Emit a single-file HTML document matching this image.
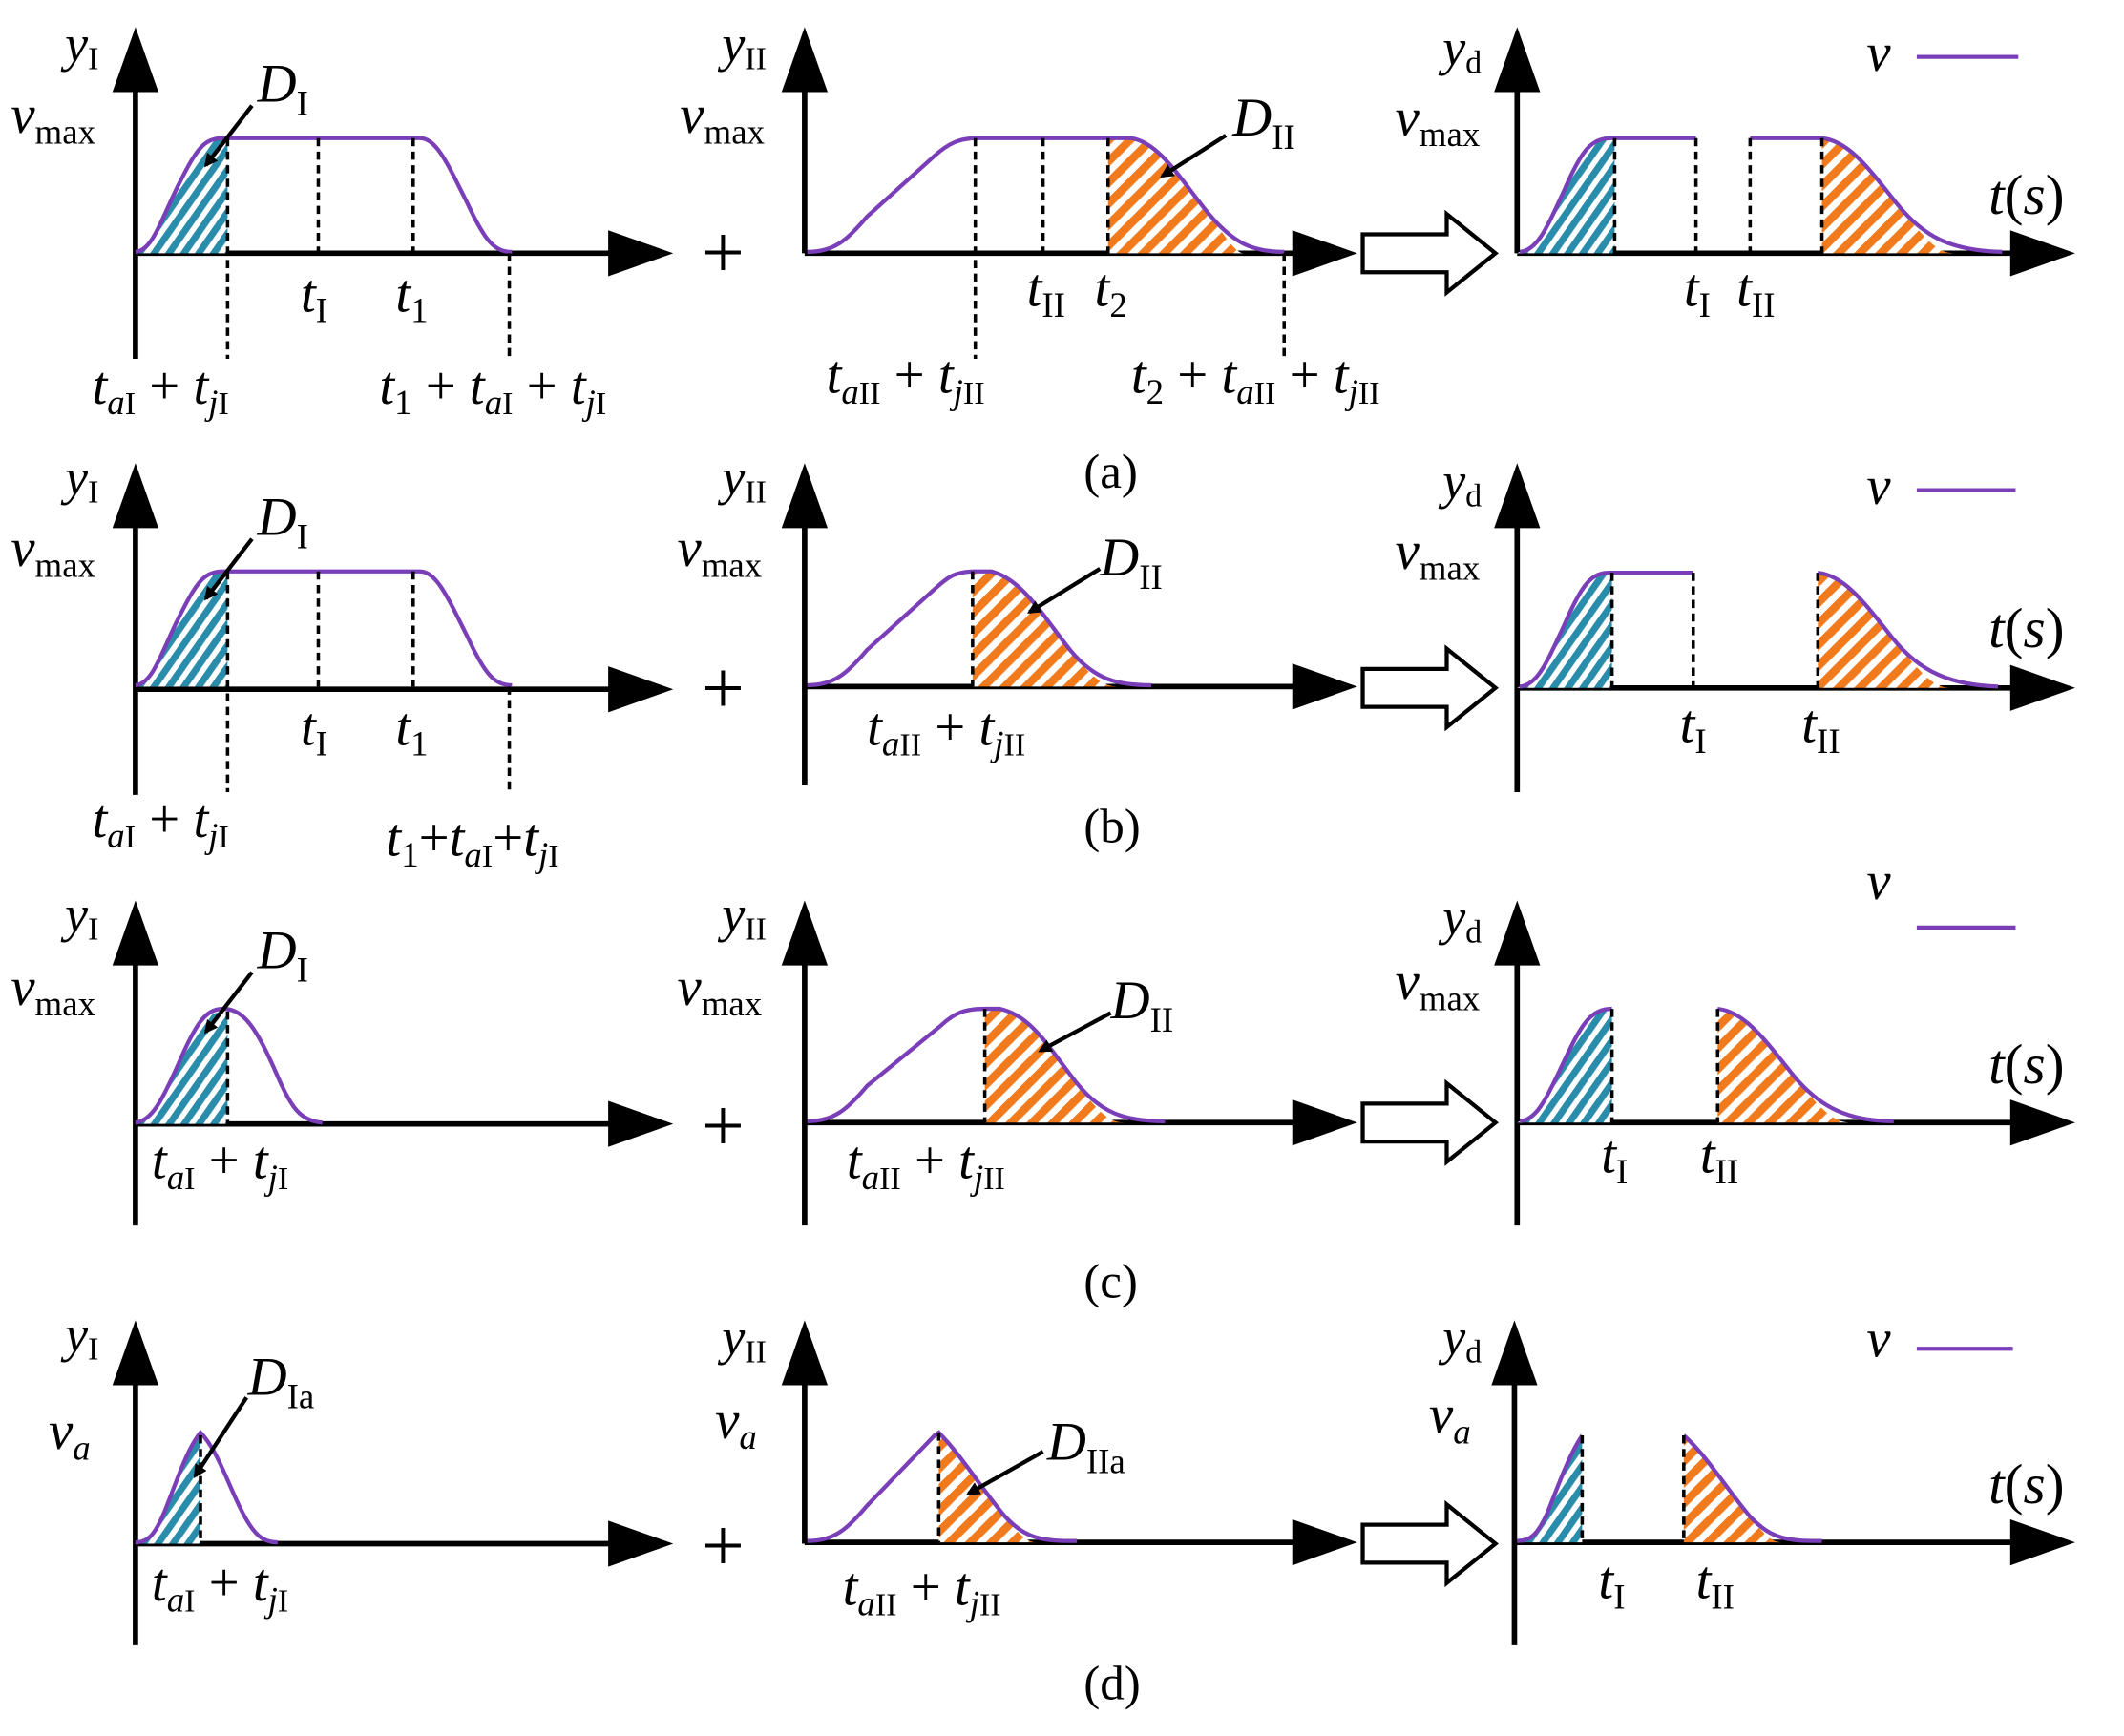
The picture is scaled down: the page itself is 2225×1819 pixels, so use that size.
<!DOCTYPE html>
<html><head><meta charset="utf-8"><style>
html,body{margin:0;padding:0;background:#fff;}
svg{display:block}
text{font-family:"Liberation Serif",serif;fill:#000}
.it{font-style:italic}
</style></head><body>
<svg width="2225" height="1819" viewBox="0 0 1568 1282" preserveAspectRatio="none" xmlns="http://www.w3.org/2000/svg">
<defs>
<pattern id="hb" patternUnits="userSpaceOnUse" width="9" height="9" patternTransform="rotate(35)">
<rect width="9" height="9" fill="#fff"/><rect width="5" height="9" fill="#2a8cab"/></pattern>
<pattern id="ho" patternUnits="userSpaceOnUse" width="11" height="11" patternTransform="rotate(45)">
<rect width="11" height="11" fill="#fff"/><rect width="6" height="11" fill="#f07a1c"/></pattern>
<marker id="ar" markerWidth="10" markerHeight="10" refX="8" refY="5" orient="auto" markerUnits="userSpaceOnUse">
<path d="M0,0 L10,5 L0,10 z" fill="#000"/></marker>
<g id="ya"><path d="M0,0 l-16,42 l32,0 z" fill="#000"/></g>
</defs>
<style>
.ax{stroke:#000;stroke-width:4;fill:none}
.cv{stroke:#7a3fb8;stroke-width:3;fill:none}
.ds{stroke:#000;stroke-width:2.5;stroke-dasharray:6,4;fill:none}
.pt{stroke:#000;stroke-width:3;fill:none}
</style>

<!-- generic axes helpers written inline -->
<!-- ===== ROW A (baseline 187) ===== -->
<g>
<line class="ax" x1="100" y1="265" x2="100" y2="60"/><path d="M100,20 l-17,48 l34,0z"/>
<line class="ax" x1="100" y1="187" x2="460" y2="187"/><path d="M497,187 l-48,-17 l0,34z"/>
<path d="M100,187 L168,187 L168,102 C150,102 145,110 130,140 C118,165 112,185 100,187z" fill="url(#hb)"/>
<path class="cv" d="M100,186 C112,185 118,165 130,140 C145,110 150,102 165,102 L310,102 C322,102 330,120 345,150 C358,178 365,186 378,186"/>
<line class="ds" x1="168" y1="102" x2="168" y2="265"/><line class="ds" x1="235" y1="102" x2="235" y2="187"/>
<line class="ds" x1="305" y1="102" x2="305" y2="187"/><line class="ds" x1="376" y1="187" x2="376" y2="265"/>
<line class="pt" x1="186" y1="78" x2="152" y2="122" marker-end="url(#ar)"/>
<text x="48" y="45" font-size="38" class="it">y<tspan font-size="24" font-style="normal" dy="6">I</tspan></text>
<text x="8" y="98" font-size="40" class="it">v<tspan font-size="26" font-style="normal" dy="8">max</tspan></text>
<text x="190" y="75" font-size="40" class="it">D<tspan font-size="26" font-style="normal" dy="10">I</tspan></text>
<text x="222" y="230" font-size="40" class="it">t<tspan font-size="26" font-style="normal" dy="8">I</tspan></text>
<text x="292" y="230" font-size="40" class="it">t<tspan font-size="26" font-style="normal" dy="8">1</tspan></text>
<text x="68" y="298" font-size="40" class="it">t<tspan font-size="26" dy="8">a</tspan><tspan font-size="24" font-style="normal">I</tspan><tspan dy="-8" font-style="normal"> + </tspan>t<tspan font-size="26" dy="8">j</tspan><tspan font-size="24" font-style="normal">I</tspan></text>
<text x="280" y="298" font-size="40" class="it">t<tspan font-size="26" font-style="normal" dy="8">1</tspan><tspan dy="-8" font-style="normal"> + </tspan>t<tspan font-size="26" dy="8">a</tspan><tspan font-size="24" font-style="normal">I</tspan><tspan dy="-8" font-style="normal"> + </tspan>t<tspan font-size="26" dy="8">j</tspan><tspan font-size="24" font-style="normal">I</tspan></text>
<text x="518" y="205" font-size="56">+</text>

<line class="ax" x1="594" y1="187" x2="594" y2="60"/><path d="M594,20 l-17,48 l34,0z"/>
<line class="ax" x1="594" y1="187" x2="965" y2="187"/><path d="M1002,187 l-48,-17 l0,34z"/>
<path d="M818,187 L818,102 L838,102 C855,105 870,130 890,155 C905,175 912,187 918,187z" fill="url(#ho)"/>
<path class="cv" d="M596,186 C615,186 625,178 640,160 L690,115 C700,106 708,102 722,102 L835,102 C855,105 870,130 890,155 C910,180 925,186 948,186"/>
<line class="ds" x1="720" y1="102" x2="720" y2="265"/><line class="ds" x1="770" y1="102" x2="770" y2="187"/>
<line class="ds" x1="818" y1="102" x2="818" y2="187"/><line class="ds" x1="948" y1="187" x2="948" y2="265"/>
<line class="pt" x1="905" y1="100" x2="858" y2="130" marker-end="url(#ar)"/>
<text x="533" y="45" font-size="38" class="it">y<tspan font-size="24" font-style="normal" dy="6">II</tspan></text>
<text x="502" y="98" font-size="40" class="it">v<tspan font-size="26" font-style="normal" dy="8">max</tspan></text>
<text x="910" y="100" font-size="40" class="it">D<tspan font-size="26" font-style="normal" dy="10">II</tspan></text>
<text x="758" y="226" font-size="40" class="it">t<tspan font-size="26" font-style="normal" dy="8">II</tspan></text>
<text x="808" y="226" font-size="40" class="it">t<tspan font-size="26" font-style="normal" dy="8">2</tspan></text>
<text x="610" y="290" font-size="40" class="it">t<tspan font-size="26" dy="8">a</tspan><tspan font-size="24" font-style="normal">II</tspan><tspan dy="-8" font-style="normal"> + </tspan>t<tspan font-size="26" dy="8">j</tspan><tspan font-size="24" font-style="normal">II</tspan></text>
<text x="835" y="290" font-size="40" class="it">t<tspan font-size="26" font-style="normal" dy="8">2</tspan><tspan dy="-8" font-style="normal"> + </tspan>t<tspan font-size="26" dy="8">a</tspan><tspan font-size="24" font-style="normal">II</tspan><tspan dy="-8" font-style="normal"> + </tspan>t<tspan font-size="26" dy="8">j</tspan><tspan font-size="24" font-style="normal">II</tspan></text>
<path d="M1006,173 L1068,173 L1068,158 L1104,187 L1068,216 L1068,201 L1006,201z" fill="#fff" stroke="#000" stroke-width="3"/>

<line class="ax" x1="1120" y1="187" x2="1120" y2="60"/><path d="M1120,20 l-17,48 l34,0z"/>
<line class="ax" x1="1120" y1="187" x2="1495" y2="187"/><path d="M1532,187 l-48,-17 l0,34z"/>
<path d="M1120,187 L1192,187 L1192,102 C1175,102 1168,110 1155,140 C1142,168 1135,185 1122,186z" fill="url(#hb)"/>
<path d="M1345,187 L1345,102 C1365,104 1380,125 1400,150 C1420,175 1430,187 1442,187z" fill="url(#ho)"/>
<path class="cv" d="M1122,186 C1135,185 1142,168 1155,140 C1168,110 1175,102 1190,102 L1252,102 M1292,102 L1345,102 C1365,104 1380,125 1400,150 C1420,175 1440,185 1478,186"/>
<line class="ds" x1="1192" y1="102" x2="1192" y2="187"/><line class="ds" x1="1252" y1="102" x2="1252" y2="187"/>
<line class="ds" x1="1292" y1="102" x2="1292" y2="187"/><line class="ds" x1="1345" y1="102" x2="1345" y2="187"/>
<text x="1065" y="48" font-size="38" class="it">y<tspan font-size="24" font-style="normal" dy="6">d</tspan></text>
<text x="1030" y="100" font-size="40" class="it">v<tspan font-size="26" font-style="normal" dy="8">max</tspan></text>
<text x="1468" y="158" font-size="42" class="it">t<tspan font-style="normal">(</tspan>s<tspan font-style="normal">)</tspan></text>
<text x="1378" y="52" font-size="40" class="it">v</text><line x1="1415" y1="42" x2="1490" y2="42" stroke="#7a3fb8" stroke-width="3"/>
<text x="1243" y="226" font-size="40" class="it">t<tspan font-size="26" font-style="normal" dy="8">I</tspan></text>
<text x="1282" y="226" font-size="40" class="it">t<tspan font-size="26" font-style="normal" dy="8">II</tspan></text>
<text x="800" y="360" font-size="36">(a)</text>
</g>

<!-- ===== ROW B (baseline 509) ===== -->
<g>
<line class="ax" x1="100" y1="587" x2="100" y2="382"/><path d="M100,342 l-17,48 l34,0z"/>
<line class="ax" x1="100" y1="509" x2="460" y2="509"/><path d="M497,509 l-48,-17 l0,34z"/>
<g transform="translate(0,320)">
<path d="M100,187 L168,187 L168,102 C150,102 145,110 130,140 C118,165 112,185 100,187z" fill="url(#hb)"/>
<path class="cv" d="M100,186 C112,185 118,165 130,140 C145,110 150,102 165,102 L310,102 C322,102 330,120 345,150 C358,178 365,186 378,186"/>
<line class="ds" x1="168" y1="102" x2="168" y2="265"/><line class="ds" x1="235" y1="102" x2="235" y2="187"/>
<line class="ds" x1="305" y1="102" x2="305" y2="187"/><line class="ds" x1="376" y1="187" x2="376" y2="265"/>
<line class="pt" x1="186" y1="78" x2="152" y2="122" marker-end="url(#ar)"/>
</g>
<text x="48" y="365" font-size="38" class="it">y<tspan font-size="24" font-style="normal" dy="6">I</tspan></text>
<text x="8" y="418" font-size="40" class="it">v<tspan font-size="26" font-style="normal" dy="8">max</tspan></text>
<text x="190" y="395" font-size="40" class="it">D<tspan font-size="26" font-style="normal" dy="10">I</tspan></text>
<text x="222" y="550" font-size="40" class="it">t<tspan font-size="26" font-style="normal" dy="8">I</tspan></text>
<text x="292" y="550" font-size="40" class="it">t<tspan font-size="26" font-style="normal" dy="8">1</tspan></text>
<text x="68" y="618" font-size="40" class="it">t<tspan font-size="26" dy="8">a</tspan><tspan font-size="24" font-style="normal">I</tspan><tspan dy="-8" font-style="normal"> + </tspan>t<tspan font-size="26" dy="8">j</tspan><tspan font-size="24" font-style="normal">I</tspan></text>
<text x="285" y="632" font-size="40" class="it">t<tspan font-size="26" font-style="normal" dy="8">1</tspan><tspan dy="-8" font-style="normal">+</tspan>t<tspan font-size="26" dy="8">a</tspan><tspan font-size="24" font-style="normal">I</tspan><tspan dy="-8" font-style="normal">+</tspan>t<tspan font-size="26" dy="8">j</tspan><tspan font-size="24" font-style="normal">I</tspan></text>
<text x="518" y="527" font-size="56">+</text>

<line class="ax" x1="594" y1="580" x2="594" y2="382"/><path d="M594,342 l-17,48 l34,0z"/>
<line class="ax" x1="594" y1="507" x2="965" y2="507"/><path d="M1002,507 l-48,-17 l0,34z"/>
<path d="M718,507 L718,422 L735,422 C755,428 770,455 790,480 C805,500 815,507 825,507z" fill="url(#ho)"/>
<path class="cv" d="M596,506 C615,506 625,498 640,480 L690,435 C700,426 705,422 720,422 L732,422 C755,428 770,455 790,480 C808,502 825,506 850,506"/>
<line class="ds" x1="718" y1="422" x2="718" y2="507"/>
<line class="pt" x1="812" y1="420" x2="760" y2="452" marker-end="url(#ar)"/>
<text x="533" y="365" font-size="38" class="it">y<tspan font-size="24" font-style="normal" dy="6">II</tspan></text>
<text x="500" y="418" font-size="40" class="it">v<tspan font-size="26" font-style="normal" dy="8">max</tspan></text>
<text x="812" y="425" font-size="40" class="it">D<tspan font-size="26" font-style="normal" dy="10">II</tspan></text>
<text x="640" y="550" font-size="40" class="it">t<tspan font-size="26" dy="8">a</tspan><tspan font-size="24" font-style="normal">II</tspan><tspan dy="-8" font-style="normal"> + </tspan>t<tspan font-size="26" dy="8">j</tspan><tspan font-size="24" font-style="normal">II</tspan></text>
<path d="M1006,494 L1068,494 L1068,479 L1104,508 L1068,537 L1068,522 L1006,522z" fill="#fff" stroke="#000" stroke-width="3"/>

<line class="ax" x1="1120" y1="585" x2="1120" y2="382"/><path d="M1120,342 l-17,48 l34,0z"/>
<line class="ax" x1="1120" y1="508" x2="1495" y2="508"/><path d="M1532,508 l-48,-17 l0,34z"/>
<g transform="translate(0,321)">
<path d="M1120,187 L1190,187 L1190,102 C1175,102 1168,110 1155,140 C1142,168 1135,185 1122,186z" fill="url(#hb)"/>
<path d="M1342,187 L1342,102 C1362,104 1377,125 1397,150 C1417,175 1427,187 1440,187z" fill="url(#ho)"/>
<path class="cv" d="M1122,186 C1135,185 1142,168 1155,140 C1168,110 1175,102 1188,102 L1250,102 M1342,102 C1362,104 1377,125 1397,150 C1417,175 1440,185 1475,186"/>
<line class="ds" x1="1190" y1="102" x2="1190" y2="187"/><line class="ds" x1="1250" y1="102" x2="1250" y2="187"/>
<line class="ds" x1="1342" y1="102" x2="1342" y2="187"/>
</g>
<text x="1065" y="368" font-size="38" class="it">y<tspan font-size="24" font-style="normal" dy="6">d</tspan></text>
<text x="1030" y="420" font-size="40" class="it">v<tspan font-size="26" font-style="normal" dy="8">max</tspan></text>
<text x="1468" y="478" font-size="42" class="it">t<tspan font-style="normal">(</tspan>s<tspan font-style="normal">)</tspan></text>
<text x="1378" y="372" font-size="40" class="it">v</text><line x1="1415" y1="362" x2="1488" y2="362" stroke="#7a3fb8" stroke-width="3"/>
<text x="1240" y="548" font-size="40" class="it">t<tspan font-size="26" font-style="normal" dy="8">I</tspan></text>
<text x="1330" y="548" font-size="40" class="it">t<tspan font-size="26" font-style="normal" dy="8">II</tspan></text>
<text x="800" y="622" font-size="36">(b)</text>
</g>

<!-- ===== ROW C (baseline 830) ===== -->
<g>
<line class="ax" x1="100" y1="905" x2="100" y2="705"/><path d="M100,665 l-17,48 l34,0z"/>
<line class="ax" x1="100" y1="830" x2="460" y2="830"/><path d="M497,830 l-48,-17 l0,34z"/>
<path d="M100,830 L168,830 L168,748 C155,745 145,755 132,785 C120,812 112,828 100,829z" fill="url(#hb)"/>
<path class="cv" d="M100,829 C112,828 120,812 132,785 C145,755 152,745 165,745 C180,745 190,760 205,795 C215,818 222,828 238,829"/>
<line class="ds" x1="168" y1="747" x2="168" y2="830"/>
<line class="pt" x1="186" y1="718" x2="152" y2="762" marker-end="url(#ar)"/>
<text x="48" y="688" font-size="38" class="it">y<tspan font-size="24" font-style="normal" dy="6">I</tspan></text>
<text x="8" y="742" font-size="40" class="it">v<tspan font-size="26" font-style="normal" dy="8">max</tspan></text>
<text x="190" y="715" font-size="40" class="it">D<tspan font-size="26" font-style="normal" dy="10">I</tspan></text>
<text x="112" y="870" font-size="40" class="it">t<tspan font-size="26" dy="8">a</tspan><tspan font-size="24" font-style="normal">I</tspan><tspan dy="-8" font-style="normal"> + </tspan>t<tspan font-size="26" dy="8">j</tspan><tspan font-size="24" font-style="normal">I</tspan></text>
<text x="518" y="850" font-size="56">+</text>

<line class="ax" x1="594" y1="905" x2="594" y2="705"/><path d="M594,665 l-17,48 l34,0z"/>
<line class="ax" x1="594" y1="829" x2="965" y2="829"/><path d="M1002,829 l-48,-17 l0,34z"/>
<path d="M727,829 L727,745 L740,745 C762,750 775,775 795,800 C810,820 818,829 830,829z" fill="url(#ho)"/>
<path class="cv" d="M596,828 C615,828 625,820 640,802 L695,757 C705,748 712,745 727,745 L738,745 C762,750 775,775 795,800 C813,822 830,828 860,828"/>
<line class="ds" x1="727" y1="745" x2="727" y2="829"/>
<line class="pt" x1="820" y1="748" x2="768" y2="776" marker-end="url(#ar)"/>
<text x="533" y="688" font-size="38" class="it">y<tspan font-size="24" font-style="normal" dy="6">II</tspan></text>
<text x="500" y="742" font-size="40" class="it">v<tspan font-size="26" font-style="normal" dy="8">max</tspan></text>
<text x="820" y="752" font-size="40" class="it">D<tspan font-size="26" font-style="normal" dy="10">II</tspan></text>
<text x="625" y="870" font-size="40" class="it">t<tspan font-size="26" dy="8">a</tspan><tspan font-size="24" font-style="normal">II</tspan><tspan dy="-8" font-style="normal"> + </tspan>t<tspan font-size="26" dy="8">j</tspan><tspan font-size="24" font-style="normal">II</tspan></text>
<path d="M1006,815 L1068,815 L1068,800 L1104,829 L1068,858 L1068,843 L1006,843z" fill="#fff" stroke="#000" stroke-width="3"/>

<line class="ax" x1="1120" y1="905" x2="1120" y2="705"/><path d="M1120,665 l-17,48 l34,0z"/>
<line class="ax" x1="1120" y1="829" x2="1495" y2="829"/><path d="M1532,829 l-48,-17 l0,34z"/>
<path d="M1120,829 L1190,829 L1190,745 C1175,745 1168,755 1155,783 C1142,810 1135,827 1122,828z" fill="url(#hb)"/>
<path d="M1268,829 L1268,745 C1288,747 1303,768 1323,793 C1343,818 1353,829 1366,829z" fill="url(#ho)"/>
<path class="cv" d="M1122,828 C1135,827 1142,810 1155,783 C1168,755 1175,745 1190,745 M1268,745 C1288,747 1303,768 1323,793 C1343,818 1365,828 1398,828"/>
<line class="ds" x1="1190" y1="745" x2="1190" y2="829"/><line class="ds" x1="1268" y1="745" x2="1268" y2="829"/>
<text x="1065" y="690" font-size="38" class="it">y<tspan font-size="24" font-style="normal" dy="6">d</tspan></text>
<text x="1030" y="738" font-size="40" class="it">v<tspan font-size="26" font-style="normal" dy="8">max</tspan></text>
<text x="1468" y="800" font-size="42" class="it">t<tspan font-style="normal">(</tspan>s<tspan font-style="normal">)</tspan></text>
<text x="1378" y="664" font-size="40" class="it">v</text><line x1="1415" y1="685" x2="1488" y2="685" stroke="#7a3fb8" stroke-width="3"/>
<text x="1182" y="866" font-size="40" class="it">t<tspan font-size="26" font-style="normal" dy="8">I</tspan></text>
<text x="1255" y="866" font-size="40" class="it">t<tspan font-size="26" font-style="normal" dy="8">II</tspan></text>
<text x="800" y="958" font-size="36">(c)</text>
</g>

<!-- ===== ROW D (baseline 1140) ===== -->
<g>
<line class="ax" x1="100" y1="1215" x2="100" y2="1015"/><path d="M100,975 l-17,48 l34,0z"/>
<line class="ax" x1="100" y1="1140" x2="460" y2="1140"/><path d="M497,1140 l-48,-17 l0,34z"/>
<path d="M100,1140 L148,1140 L148,1060 C138,1070 130,1095 122,1115 C115,1132 110,1139 100,1139z" fill="url(#hb)"/>
<path class="cv" d="M100,1139 C110,1139 115,1132 122,1115 C130,1095 138,1070 148,1058 C160,1070 168,1095 178,1115 C188,1135 195,1139 205,1139"/>
<line class="ds" x1="148" y1="1060" x2="148" y2="1140"/>
<line class="pt" x1="182" y1="1032" x2="144" y2="1090" marker-end="url(#ar)"/>
<text x="48" y="998" font-size="38" class="it">y<tspan font-size="24" font-style="normal" dy="6">I</tspan></text>
<text x="36" y="1070" font-size="40" class="it">v<tspan font-size="26" dy="8">a</tspan></text>
<text x="183" y="1030" font-size="40" class="it">D<tspan font-size="26" font-style="normal" dy="10">Ia</tspan></text>
<text x="112" y="1182" font-size="40" class="it">t<tspan font-size="26" dy="8">a</tspan><tspan font-size="24" font-style="normal">I</tspan><tspan dy="-8" font-style="normal"> + </tspan>t<tspan font-size="26" dy="8">j</tspan><tspan font-size="24" font-style="normal">I</tspan></text>
<text x="518" y="1160" font-size="56">+</text>

<line class="ax" x1="594" y1="1140" x2="594" y2="1015"/><path d="M594,975 l-17,48 l34,0z"/>
<line class="ax" x1="594" y1="1139" x2="965" y2="1139"/><path d="M1002,1139 l-48,-17 l0,34z"/>
<path d="M693,1139 L693,1058 C710,1075 725,1100 742,1120 C752,1133 758,1139 765,1139z" fill="url(#ho)"/>
<path class="cv" d="M596,1138 C615,1138 625,1130 640,1112 L690,1060 L693,1058 C710,1075 725,1100 742,1120 C758,1137 770,1138 795,1138"/>
<line class="ds" x1="693" y1="1058" x2="693" y2="1139"/>
<line class="pt" x1="770" y1="1072" x2="715" y2="1103" marker-end="url(#ar)"/>
<text x="533" y="1000" font-size="38" class="it">y<tspan font-size="24" font-style="normal" dy="6">II</tspan></text>
<text x="528" y="1062" font-size="40" class="it">v<tspan font-size="26" dy="8">a</tspan></text>
<text x="773" y="1078" font-size="40" class="it">D<tspan font-size="26" font-style="normal" dy="10">IIa</tspan></text>
<text x="622" y="1185" font-size="40" class="it">t<tspan font-size="26" dy="8">a</tspan><tspan font-size="24" font-style="normal">II</tspan><tspan dy="-8" font-style="normal"> + </tspan>t<tspan font-size="26" dy="8">j</tspan><tspan font-size="24" font-style="normal">II</tspan></text>
<path d="M1006,1126 L1068,1126 L1068,1111 L1104,1140 L1068,1169 L1068,1154 L1006,1154z" fill="#fff" stroke="#000" stroke-width="3"/>

<line class="ax" x1="1118" y1="1215" x2="1118" y2="1015"/><path d="M1118,975 l-17,48 l34,0z"/>
<line class="ax" x1="1118" y1="1139" x2="1495" y2="1139"/><path d="M1532,1139 l-48,-17 l0,34z"/>
<path d="M1120,1139 L1168,1139 L1168,1062 C1158,1075 1150,1098 1142,1118 C1135,1133 1130,1138 1120,1138z" fill="url(#hb)"/>
<path d="M1243,1139 L1243,1062 C1260,1075 1275,1100 1292,1120 C1302,1133 1308,1139 1315,1139z" fill="url(#ho)"/>
<path class="cv" d="M1120,1138 C1130,1138 1135,1133 1142,1118 C1150,1098 1158,1075 1168,1060 M1243,1060 C1260,1075 1275,1100 1292,1120 C1308,1137 1320,1138 1345,1138"/>
<line class="ds" x1="1168" y1="1060" x2="1168" y2="1139"/><line class="ds" x1="1243" y1="1060" x2="1243" y2="1139"/>
<text x="1065" y="1000" font-size="38" class="it">y<tspan font-size="24" font-style="normal" dy="6">d</tspan></text>
<text x="1055" y="1058" font-size="40" class="it">v<tspan font-size="26" dy="8">a</tspan></text>
<text x="1468" y="1110" font-size="42" class="it">t<tspan font-style="normal">(</tspan>s<tspan font-style="normal">)</tspan></text>
<text x="1378" y="1002" font-size="40" class="it">v</text><line x1="1415" y1="996" x2="1486" y2="996" stroke="#7a3fb8" stroke-width="3"/>
<text x="1180" y="1180" font-size="40" class="it">t<tspan font-size="26" font-style="normal" dy="8">I</tspan></text>
<text x="1252" y="1180" font-size="40" class="it">t<tspan font-size="26" font-style="normal" dy="8">II</tspan></text>
<text x="800" y="1255" font-size="36">(d)</text>
</g>
</svg>
</body></html>
